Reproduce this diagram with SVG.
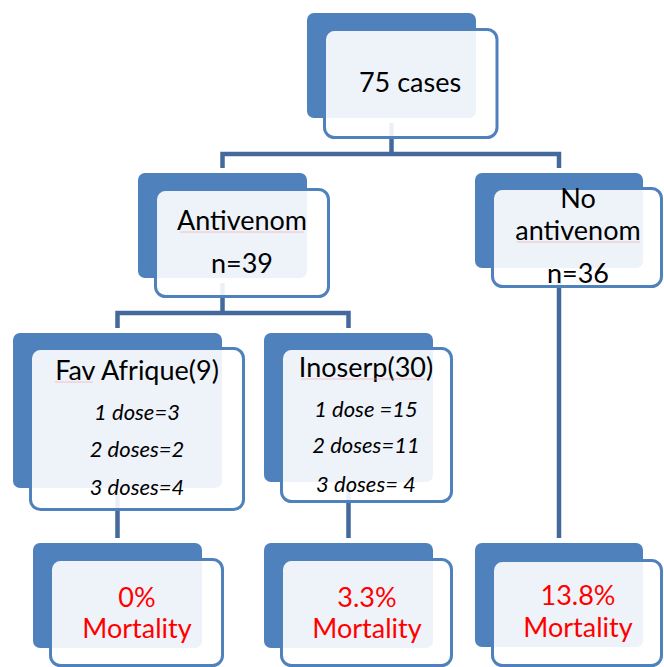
<svg xmlns="http://www.w3.org/2000/svg" width="664" height="667" viewBox="0 0 664 667">
<style>
.back{fill:#4F81BD}
.front{fill:#FFFFFF;fill-opacity:0.9;stroke:#4F81BD;stroke-width:3}
.conn{fill:none;stroke:#44699D;stroke-width:4.5}
text{font-family:Lato,"Liberation Sans",sans-serif;text-anchor:middle}
.t{font-size:27px;fill:#000}
.i{font-size:22px;font-style:italic;fill:#000}
.r{font-size:27px;fill:#FF0000}
.spell{fill:none;stroke:#F2A0A0;stroke-width:1;opacity:0.6}
</style>
<rect width="664" height="667" fill="#FFFFFF"/>
<g id="connectors">
<path class="conn" d="M391.5 123 V154"/>
<path class="conn" d="M222.5 168 V154 H559 V168"/>
<path class="conn" d="M222.5 283 V313"/>
<path class="conn" d="M117.5 328 V313 H348.5 V328"/>
<path class="conn" d="M117.5 493 V538"/>
<path class="conn" d="M348.5 487 V538"/>
<path class="conn" d="M559 273 V538"/>
</g>
<g id="node-root">
<rect class="back" x="307" y="13" width="169" height="105" rx="7"/>
<rect class="front" x="324.5" y="29.5" width="172.5" height="108" rx="10"/>
<text class="t" x="410" y="92">75 cases</text>
</g>
<g id="node-antivenom">
<rect class="back" x="138" y="173" width="169" height="105" rx="7"/>
<rect class="front" x="155.5" y="189.5" width="173" height="107" rx="10"/>
<text class="t" x="242" y="230">Antivenom</text>
<path class="spell" d="M180 232 H304"/>
<text class="t" x="242" y="273">n=39</text>
</g>
<g id="node-no-antivenom">
<rect class="back" x="475" y="173" width="168" height="95" rx="7"/>
<rect class="front" x="492.5" y="188.5" width="169" height="98" rx="10"/>
<text class="t" x="578" y="208">No</text>
<text class="t" x="578" y="240">antivenom</text>
<path class="spell" d="M517 242 H640"/>
<text class="t" x="578" y="283">n=36</text>
</g>
<g id="node-fav">
<rect class="back" x="13" y="333" width="209" height="155" rx="7"/>
<rect class="front" x="30.5" y="348.5" width="213" height="161" rx="10"/>
<text class="t" x="137" y="380">Fav Afrique(9)</text>
<path class="spell" d="M55 382 H93"/>
<text class="i" x="137" y="420">1 dose=3</text>
<text class="i" x="137" y="457">2 doses=2</text>
<text class="i" x="137" y="495">3 doses=4</text>
</g>
<g id="node-inoserp">
<rect class="back" x="264" y="333" width="169" height="149" rx="7"/>
<rect class="front" x="281.5" y="348.5" width="170" height="153" rx="10"/>
<text class="t" x="366" y="377">Inoserp(30)</text>
<path class="spell" d="M301 379 H425"/>
<text class="i" x="366" y="417">1 dose =15</text>
<text class="i" x="366" y="453">2 doses=11</text>
<text class="i" x="366" y="492">3 doses= 4</text>
</g>
<g id="node-mort-fav">
<rect class="back" x="33" y="543" width="169" height="105" rx="7"/>
<rect class="front" x="50.5" y="559.5" width="172" height="106" rx="10"/>
<text class="r" x="137" y="607">0%</text>
<text class="r" x="137" y="638">Mortality</text>
</g>
<g id="node-mort-inoserp">
<rect class="back" x="264" y="543" width="169" height="105" rx="7"/>
<rect class="front" x="281.5" y="559.5" width="170" height="106" rx="10"/>
<text class="r" x="367" y="607">3.3%</text>
<text class="r" x="367" y="638">Mortality</text>
</g>
<g id="node-mort-none">
<rect class="back" x="475" y="543" width="168" height="104" rx="7"/>
<rect class="front" x="492.5" y="560.5" width="169" height="105" rx="10"/>
<text class="r" x="578" y="605">13.8%</text>
<text class="r" x="578" y="637">Mortality</text>
</g>
</svg>
